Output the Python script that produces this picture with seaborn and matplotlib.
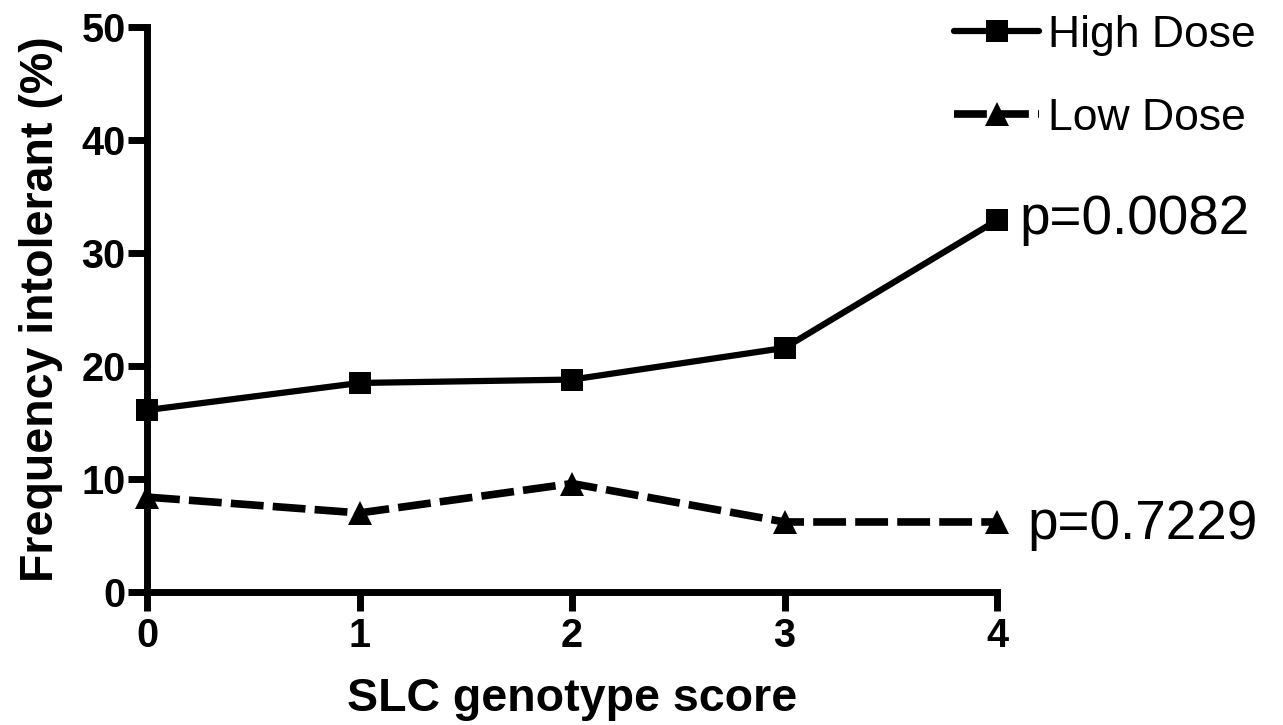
import pandas as pd
import seaborn as sns
import matplotlib.pyplot as plt

scores = [0, 1, 2, 3, 4]
high_dose = [16.1, 18.5, 18.8, 21.6, 32.9]
low_dose = [8.4, 7.0, 9.6, 6.2, 6.2]
series_names = ['High Dose', 'Low Dose']
p_values = ['p=0.0082', 'p=0.7229']

sns.set_style('ticks')
plt.rcParams['font.family'] = ['Liberation Sans', 'DejaVu Sans']
plt.rcParams['text.color'] = 'black'
plt.rcParams['axes.labelcolor'] = 'black'
plt.rcParams['xtick.color'] = 'black'
plt.rcParams['ytick.color'] = 'black'

data = pd.DataFrame({
    'score': scores * 2,
    'freq': high_dose + low_dose,
    'dose': [series_names[0]] * 5 + [series_names[1]] * 5,
})

fig = plt.figure(figsize=(12.83, 7.25), dpi=100)
ax = fig.add_axes([0.1146, 0.1834, 0.6625, 0.7794])

hi = data[data['dose'] == 'High Dose']
lo = data[data['dose'] == 'Low Dose']
sns.lineplot(data=hi, x='score', y='freq', ax=ax, color='black', linewidth=4.5,
             marker='s', markersize=16, markeredgewidth=0, clip_on=False, label='High Dose')
sns.lineplot(data=lo, x='score', y='freq', ax=ax, color='black', linewidth=5.5,
             marker='^', markersize=17, markeredgewidth=0, clip_on=False, label='Low Dose')
ax.lines[1].set_dashes([4.3, 1.2])

ax.set_xlim(0, 4)
ax.set_ylim(0, 50)
ax.set_xticks(scores)
ax.set_yticks([0, 10, 20, 30, 40, 50])
ax.set_xlabel('SLC genotype score', fontsize=33.5, fontweight='bold', labelpad=16)
ax.set_ylabel('Frequency intolerant (%)', fontsize=33.5, fontweight='bold', labelpad=13)
for lab in ax.get_xticklabels() + ax.get_yticklabels():
    lab.set_fontweight('bold')
ax.tick_params(axis='both', labelsize=28.5, width=5, length=14, color='black')
ax.tick_params(axis='y', pad=1.5)
ax.tick_params(axis='x', pad=4)
for s in ['left', 'bottom']:
    ax.spines[s].set_linewidth(5)
    ax.spines[s].set_color('black')
sns.despine(ax=ax)

# p-value annotations next to last points
ax.annotate(p_values[0], (scores[-1], high_dose[-1]), xytext=(16, 0),
            textcoords='offset points', fontsize=39.5, va='center', ha='left', annotation_clip=False)
ax.annotate(p_values[1], (scores[-1], low_dose[-1]), xytext=(22, -2),
            textcoords='offset points', fontsize=39.5, va='center', ha='left', annotation_clip=False)

leg = ax.legend(loc='upper right', bbox_to_anchor=(0.982, 0.986), bbox_transform=fig.transFigure,
                borderaxespad=0, borderpad=0.1, frameon=False, fontsize=32, handlelength=1.9,
                labelspacing=0.95, handletextpad=0.2)

plt.savefig('out.png', dpi=100)
